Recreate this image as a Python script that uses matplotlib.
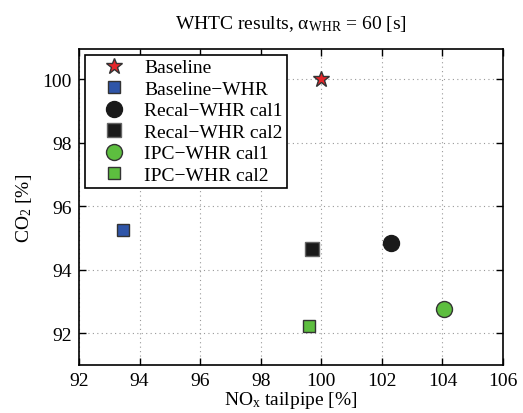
import matplotlib
matplotlib.use("Agg")
import matplotlib.pyplot as plt

plt.rcParams['font.family'] = ['Liberation Serif', 'DejaVu Serif']
plt.rcParams['mathtext.fontset'] = 'custom'
plt.rcParams['mathtext.rm'] = 'Liberation Serif'
plt.rcParams['mathtext.it'] = 'Liberation Serif:italic'

labels = ["Baseline", "Baseline\u2212WHR", "Recal\u2212WHR cal1", "Recal\u2212WHR cal2",
          "IPC\u2212WHR cal1", "IPC\u2212WHR cal2"]
nox = [100.0, 93.44, 102.29, 99.70, 104.04, 99.58]
co2 = [100.0, 95.25, 94.84, 94.66, 92.76, 92.22]
markers = ["*", "s", "o", "s", "o", "s"]
colors = ["#E5262A", "#2F55A8", "#1A1A1A", "#1A1A1A", "#5DBE3F", "#5DBE3F"]
sizes = [12, 9, 11.5, 9.5, 11.5, 9]
edges = ["#333333", "#333333", "#1A1A1A", "#666666", "#333333", "#333333"]

xticks = [92, 94, 96, 98, 100, 102, 104, 106]
yticks = [92, 94, 96, 98, 100]

fig = plt.figure(figsize=(5.23, 4.14), dpi=100)
ax = fig.add_axes([79/523, 1 - 366/414, (503 - 79)/523, (366 - 50)/414])

for x, y, m, c, s, e, l in zip(nox, co2, markers, colors, sizes, edges, labels):
    ax.plot([x], [y], linestyle='none', marker=m, markersize=s, markerfacecolor=c,
            markeredgecolor=e, markeredgewidth=1.0, label=l)

FS = 14
ax.set_xlim(92, 106)
ax.set_ylim(91, 100.95)
ax.set_xticks(xticks)
ax.set_yticks(yticks)
ax.tick_params(direction='in', top=True, right=True, labelsize=FS, length=5, width=1, pad=5)
ax.grid(True, linestyle=(0, (1, 3)), color='#999999', linewidth=0.8)
for sp in ax.spines.values():
    sp.set_linewidth(1.2)

ax.set_title(r'WHTC results, $\mathrm{α}_{\mathrm{WHR}}$ = 60 [s]', fontsize=FS, pad=15)
ax.set_xlabel(r'NO$_{\mathrm{x}}$ tailpipe [%]', fontsize=FS, labelpad=0)
ax.set_ylabel(r'CO$_{\mathrm{2}}$ [%]', fontsize=FS, labelpad=6)

leg = ax.legend(loc='upper left', fontsize=FS, frameon=True, fancybox=False,
                borderaxespad=0.3, handletextpad=0.25, labelspacing=0.2,
                borderpad=0.2, handlelength=2.6)
leg.get_frame().set_edgecolor('black')
leg.get_frame().set_linewidth(1.2)
leg.get_frame().set_alpha(1)

fig.savefig("out.png", dpi=100)
